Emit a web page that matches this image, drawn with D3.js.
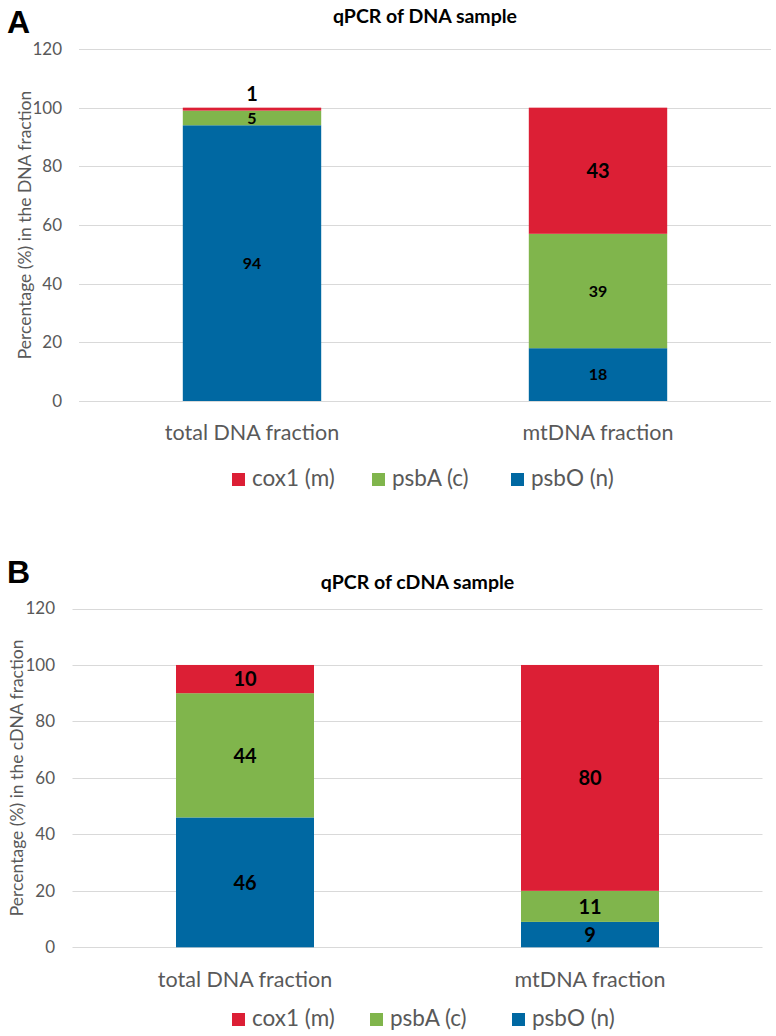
<!DOCTYPE html>
<html>
<head>
<meta charset="utf-8">
<script src="https://d3js.org/d3.v7.min.js"></script>
<style>
  body { margin: 0; background: #ffffff; }
  svg text { font-family: Lato, "Open Sans", sans-serif; }
</style>
</head>
<body>
<svg id="chart" width="776" height="1036"></svg>
<script>
// data (percentages)
const categories = ["total DNA fraction", "mtDNA fraction"];
const seriesNames = ["psbO (n)", "psbA (c)", "cox1 (m)"];   // stacking order, bottom -> top
const legendOrder = ["cox1 (m)", "psbA (c)", "psbO (n)"];
const yTicks = [0, 20, 40, 60, 80, 100, 120];

const dnaPsbO = [94, 18];
const dnaPsbA = [5, 39];
const dnaCox1 = [1, 43];

const cdnaPsbO = [46, 9];
const cdnaPsbA = [44, 11];
const cdnaCox1 = [10, 80];

const colors = { "cox1 (m)": "#dc1f35", "psbA (c)": "#80b54c", "psbO (n)": "#0068a2" };

let svg = d3.select("#chart");

// build rows for d3.stack
function makeRows(psbO, psbA, cox1) {
  return categories.map(function (c, i) {
    return { cat: c, "psbO (n)": psbO[i], "psbA (c)": psbA[i], "cox1 (m)": cox1[i] };
  });
}

function drawPanel(p) {
  let g = svg.append("g");
  let rows = makeRows(p.psbO, p.psbA, p.cox1);

  let x = d3.scaleBand()
    .domain(categories)
    .range([p.left, p.right])
    .paddingInner(0.6)
    .paddingOuter(0.3);
  let y = d3.scaleLinear()
    .domain([0, 120])
    .range([p.bottom, p.top]);

  // gridlines
  g.selectAll("line.grid").data(yTicks).enter().append("line")
    .attr("x1", p.left).attr("x2", p.right)
    .attr("y1", d => Math.round(y(d)) + 0.5).attr("y2", d => Math.round(y(d)) + 0.5)
    .attr("stroke", "#d9d9d9").attr("stroke-width", 1);

  // y axis tick labels
  let yAxis = d3.axisLeft(y).tickValues(yTicks).tickSize(0).tickPadding(0);
  let ya = g.append("g")
    .attr("transform", "translate(" + p.tickRight + ",0)")
    .call(yAxis);
  ya.select(".domain").remove();
  ya.selectAll("text")
    .attr("fill", "#595959")
    .style("font-size", "17px")
    .style("font-family", "Lato, sans-serif");

  // x axis category labels
  let xAxis = d3.axisBottom(x).tickSize(0).tickPadding(0);
  let xa = g.append("g")
    .attr("transform", "translate(0," + p.catY + ")")
    .call(xAxis);
  xa.select(".domain").remove();
  xa.selectAll("text")
    .attr("dy", 0)
    .attr("y", 0)
    .attr("fill", "#595959")
    .style("font-size", "21.5px")
    .style("font-family", "Lato, sans-serif");

  // stacked bars
  let stack = d3.stack().keys(seriesNames);
  let layers = stack(rows);
  let layerG = g.selectAll("g.layer").data(layers).enter().append("g")
    .attr("fill", d => colors[d.key]);
  layerG.selectAll("rect").data(d => d).enter().append("rect")
    .attr("x", d => x(d.data.cat))
    .attr("width", x.bandwidth())
    .attr("y", d => y(d[1]))
    .attr("height", d => y(d[0]) - y(d[1]));

  // value labels (thin top segments get their label above the bar)
  layers.forEach(function (layer) {
    layer.forEach(function (d) {
      let v = d[1] - d[0];
      let h = y(d[0]) - y(d[1]);
      let size = p.labelSize(layer.key);
      let ly = h < 8 ? y(d[1]) - 14 : (y(d[0]) + y(d[1])) / 2;
      g.append("text")
        .attr("x", x(d.data.cat) + x.bandwidth() / 2)
        .attr("y", ly)
        .attr("dy", "0.36em")
        .attr("text-anchor", "middle")
        .attr("font-weight", "bold")
        .style("font-size", size + "px")
        .attr("fill", "#000")
        .text(v);
    });
  });

  // title
  g.append("text")
    .attr("x", (p.left + p.right) / 2)
    .attr("y", p.titleY)
    .attr("text-anchor", "middle")
    .attr("font-weight", "bold")
    .style("font-size", "19.5px")
    .attr("fill", "#000")
    .text(p.title);

  // panel letter
  g.append("text")
    .attr("x", 7)
    .attr("y", p.letterY)
    .attr("font-weight", "bold")
    .style("font-family", "'Liberation Sans', Arial, sans-serif")
    .style("font-size", "32px")
    .attr("fill", "#000")
    .text(p.letter);

  // y axis title
  g.append("text")
    .attr("transform", "translate(" + p.yTitleX + "," + ((p.top + p.bottom) / 2) + ") rotate(-90)")
    .attr("text-anchor", "middle")
    .style("font-size", "17.5px")
    .attr("fill", "#595959")
    .text(p.yTitle);

  // legend
  let legend = g.selectAll("g.leg").data(legendOrder).enter().append("g")
    .attr("transform", (d, i) => "translate(" + p.legendX[i] + "," + p.legendY + ")");
  legend.append("rect")
    .attr("x", 0).attr("y", -13)
    .attr("width", 13).attr("height", 13)
    .attr("fill", d => colors[d]);
  legend.append("text")
    .attr("x", 20).attr("y", 0)
    .style("font-size", "22.5px")
    .attr("fill", "#595959")
    .text(d => d);
}

drawPanel({
  letter: "A", letterY: 33,
  title: "qPCR of DNA sample", titleY: 23,
  yTitle: "Percentage (%) in the DNA fraction", yTitleX: 31,
  left: 79, right: 771, top: 49, bottom: 401,
  tickRight: 62, catY: 440,
  legendX: [232, 372, 511], legendY: 486,
  psbO: dnaPsbO, psbA: dnaPsbA, cox1: dnaCox1,
  labelSize: k => (k === "cox1 (m)" ? 20 : 16)
});

drawPanel({
  letter: "B", letterY: 583,
  title: "qPCR of cDNA sample", titleY: 589,
  yTitle: "Percentage (%) in the cDNA fraction", yTitleX: 23,
  left: 72.5, right: 762.5, top: 608.5, bottom: 947.3,
  tickRight: 55, catY: 987,
  legendX: [232, 370, 512], legendY: 1026,
  psbO: cdnaPsbO, psbA: cdnaPsbA, cox1: cdnaCox1,
  labelSize: k => 20
});
</script>
</body>
</html>
